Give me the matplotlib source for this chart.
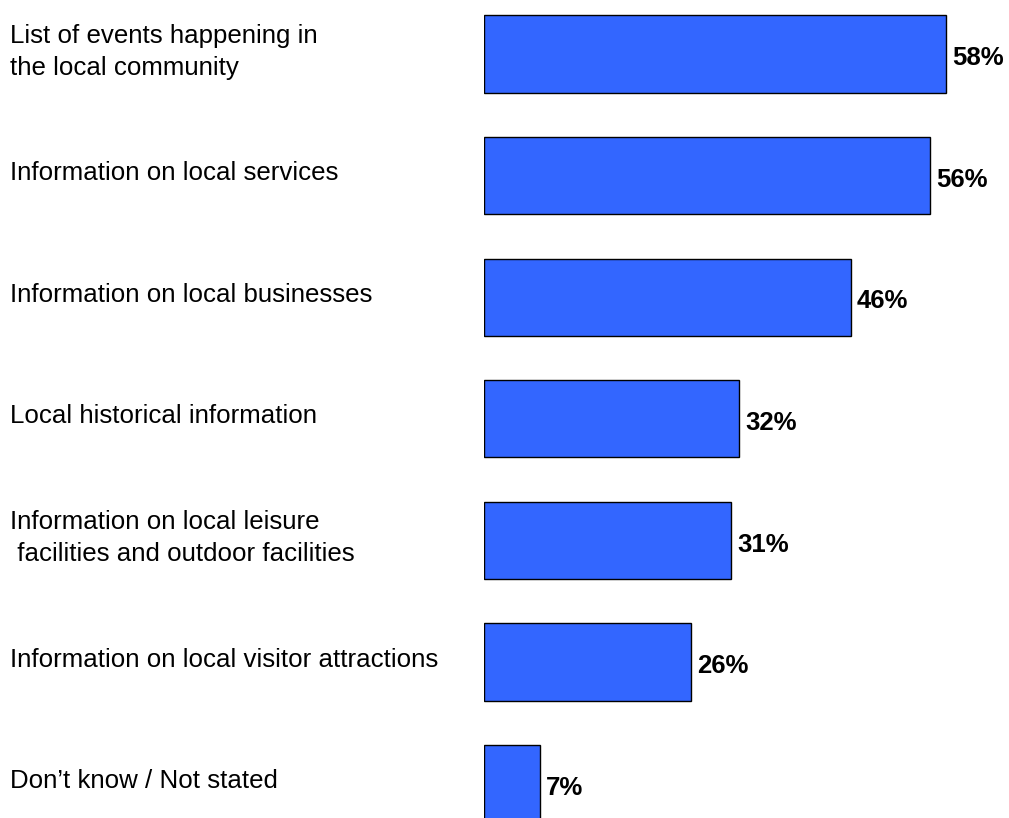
import matplotlib
matplotlib.use("Agg")
import matplotlib.pyplot as plt
from matplotlib.transforms import blended_transform_factory

categories = [
    "List of events happening in\nthe local community",
    "Information on local services",
    "Information on local businesses",
    "Local historical information",
    "Information on local leisure\n facilities and outdoor facilities",
    "Information on local visitor attractions",
    "Don\u2019t know / Not stated",
]
values = [58, 56, 46, 32, 31, 26, 7]
value_labels = ["58%", "56%", "46%", "32%", "31%", "26%", "7%"]

plt.rcParams['font.family'] = ['Liberation Sans', 'DejaVu Sans']

W, H = 1009, 818
fig = plt.figure(figsize=(W / 100, H / 100), dpi=100)
ax = fig.add_axes([484 / W, 0, 1 - 484 / W, 1])

ypos = list(range(len(values)))
ax.barh(ypos, values, height=0.635, color="#3366FF", edgecolor="black", linewidth=1.0)

spacing = 121.6
ax.set_ylim((H - 54) / spacing, -54 / spacing)
ax.set_xlim(0, (W - 484) / 7.97)
ax.axis("off")

trans = blended_transform_factory(fig.transFigure, ax.transData)
for y, cat in zip(ypos, categories):
    ax.text(10 / W, y - 0.02, cat, transform=trans, ha="left", va="center",
            fontsize=18.6, linespacing=1.42, color="black")

for y, v, lab in zip(ypos, values, value_labels):
    ax.text(v + 0.75, y + 0.035, lab, ha="left", va="center", fontsize=18.5,
            fontweight="bold", color="black")

fig.savefig("out.png", dpi=100)
